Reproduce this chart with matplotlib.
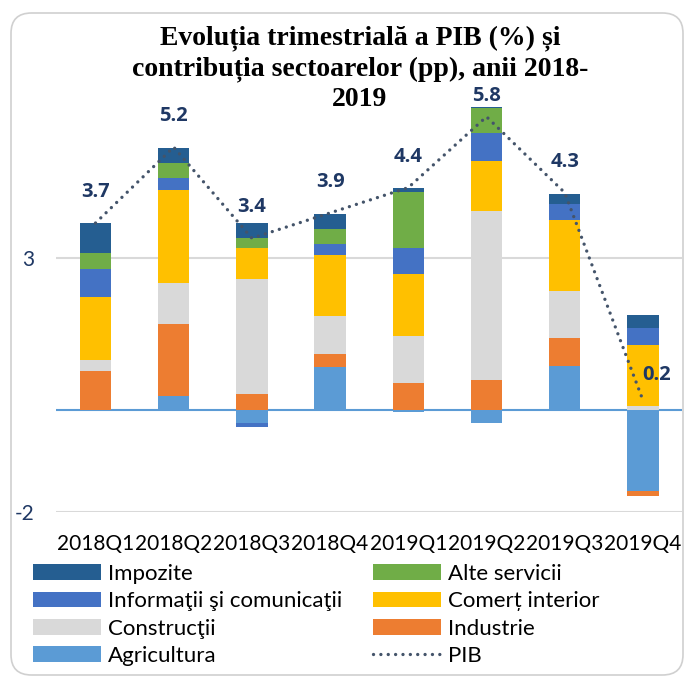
import numpy as np
import matplotlib
matplotlib.use("Agg")
import matplotlib.pyplot as plt
from matplotlib.patches import Patch, FancyBboxPatch
from matplotlib.lines import Line2D

plt.rcParams['font.family'] = ['Lato', 'DejaVu Sans']

# data (pp)
quarters = ['2018Q1', '2018Q2', '2018Q3', '2018Q4', '2019Q1', '2019Q2', '2019Q3', '2019Q4']
agricultura = [0.00, 0.28, -0.26, 0.86, -0.03, -0.25, 0.87, -1.60]
industrie = [0.78, 1.42, 0.32, 0.26, 0.53, 0.60, 0.55, -0.09]
constructii = [0.21, 0.81, 2.28, 0.75, 0.93, 3.34, 0.94, 0.09]
comert = [1.24, 1.85, 0.61, 1.19, 1.23, 0.99, 1.39, 1.19]
informatii = [0.57, 0.23, -0.07, 0.22, 0.51, 0.54, 0.33, 0.35]
alte_servicii = [0.30, 0.30, 0.20, 0.30, 1.11, 0.50, 0.00, 0.00]
impozite = [0.60, 0.30, 0.30, 0.30, 0.09, 0.05, 0.20, 0.26]
pib = [3.7, 5.2, 3.4, 3.9, 4.4, 5.8, 4.3, 0.2]

title_lines = ['Evoluția trimestrială a PIB (%) și',
               'contribuția sectoarelor (pp), anii 2018-',
               '2019']

# stacking order bottom -> top
series = [
    ('Agricultura', agricultura, '#5B9BD5'),
    ('Industrie', industrie, '#ED7D31'),
    ('Construcţii', constructii, '#D9D9D9'),
    ('Comerț interior', comert, '#FFC000'),
    ('Informaţii şi comunicaţii', informatii, '#4472C4'),
    ('Alte servicii', alte_servicii, '#70AD47'),
    ('Impozite', impozite, '#255E91'),
]

W, H = 684, 677
fig = plt.figure(figsize=(W / 100, H / 100), dpi=100)

# chart frame
frame = FancyBboxPatch((11 / W, 1 - 675 / H), (683 - 11) / W, (675 - 13) / H,
                       boxstyle="round,pad=0,rounding_size=0.03",
                       transform=fig.transFigure, facecolor='none',
                       edgecolor='#D0D0D0', linewidth=1.2, zorder=-1)
fig.patches.append(frame)

ax = fig.add_axes([56.4 / W, 0.24446, (682.0 - 56.4) / W, 0.59808])
ax.set_facecolor('none')

x = np.arange(len(quarters))
pos_base = np.zeros(len(quarters))
neg_base = np.zeros(len(quarters))
for name, vals, col in series:
    v = np.array(vals)
    base = np.where(v >= 0, pos_base, neg_base)
    ax.bar(x, v, width=0.40, bottom=base, color=col, linewidth=0, zorder=3)
    pos_base = pos_base + np.where(v >= 0, v, 0)
    neg_base = neg_base + np.where(v < 0, v, 0)

ax.plot(x, pib, color='#44546A', linewidth=2.4, linestyle=(0, (0.01, 2.2)),
        dash_capstyle='round', zorder=4)

# data labels (offsets in pixels)
label_off = {5: (0, 21), 7: (14, 25)}
for i, val in enumerate(pib):
    dx, dy = label_off.get(i, (0, 31))
    ax.annotate(f'{val:.1f}', (x[i], val), xytext=(dx * 0.72, dy * 0.72),
                textcoords='offset points', ha='center', va='center',
                fontsize=14.5, fontweight='bold', color='#1F3864', zorder=5,
                family=['Open Sans', 'DejaVu Sans'])

ax.set_xlim(-0.5, len(quarters) - 0.5)
ax.set_ylim(-2, 6)
ax.set_yticks([-2, 3])
ax.set_yticklabels(['-2', '3'])
ax.yaxis.grid(True, color='#D9D9D9', linewidth=1.5, zorder=0)
ax.set_axisbelow(True)
ax.axhline(0, color='#5B9BD5', linewidth=1.5, zorder=2)
for s in ax.spines.values():
    s.set_visible(False)
ax.tick_params(axis='y', length=0, pad=16, labelsize=15, labelcolor='#1F3864')
ax.set_xticks(x)
ax.set_xticklabels(quarters)
ax.tick_params(axis='x', length=0, pad=16, labelsize=15, labelcolor='black')

# title, one text per line
for line, ypix in zip(title_lines, [38, 69, 99]):
    fig.text(360 / W, 1 - ypix / H, line, ha='center', va='center',
             fontsize=20, fontweight='bold',
             family=['Liberation Serif', 'DejaVu Serif'])

# legend, rows: Impozite/Alte, Info/Comert, Constr/Industrie, Agri/PIB
cols = {name: col for name, vals, col in series}
order = ['Impozite', 'Informaţii şi comunicaţii', 'Construcţii', 'Agricultura',
         'Alte servicii', 'Comerț interior', 'Industrie']
handles = [Patch(facecolor=cols[n], linewidth=0) for n in order]
handles.append(Line2D([], [], color='#44546A', linewidth=2.4,
                      linestyle=(0, (0.01, 2.2)), dash_capstyle='round'))
labels = order + ['PIB']
fig.legend(handles, labels, ncol=2, loc='upper left',
           bbox_to_anchor=(24 / W, 1 - 555 / H), frameon=False,
           fontsize=16, handlelength=3.06, handletextpad=0.3,
           columnspacing=1.4, labelspacing=0.33, borderaxespad=0)

fig.savefig('out.png', dpi=100)
